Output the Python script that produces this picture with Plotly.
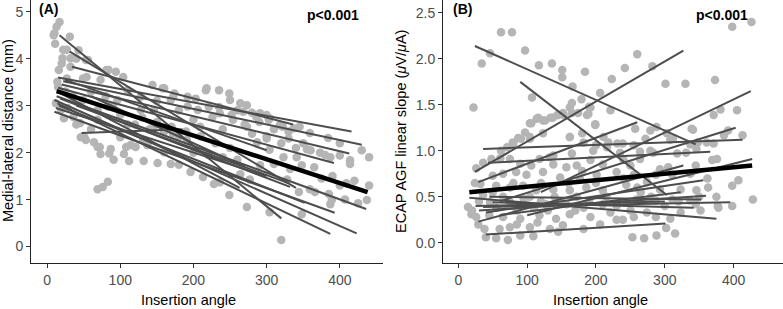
import plotly.graph_objects as go

# ---------------- Panel A data (Insertion angle vs Medial-lateral distance) ----
left_points = [
    (10,4.54),(17,4.78),(13,4.68),(31,4.47),(27,4.19),(20,3.9),(27,3.58),(40,4.0),(56,3.97),(54,3.61),
    (81,3.76),(104,3.61),(158,3.37),(172,3.19),(273,3.01),(291,2.84),(304,2.73),(322,2.55),(345,2.55),
    (359,2.42),(384,2.31),(400,2.2),(414,1.84),(49,3.12),(45,2.63),(51,2.33),(72,2.12),(85,1.98),
    (108,2.12),(131,2.27),(145,2.48),(172,2.41),(191,2.27),(209,2.55),(226,2.76),(254,2.7),(273,2.55),
    (46,2.33),(53,2.27),(69,2.12),(73,1.97),(87,2.08),(91,1.85),(105,1.97),(112,1.82),(121,2.12),
    (132,1.82),(151,1.78),(169,1.76),(180,1.74),(196,1.59),(213,1.48),(114,2.16),(137,2.16),(160,2.01),
    (64,2.22),(100,2.33),(69,1.22),(76,1.27),(83,1.38),
    (228,1.33),(236,1.37),(249,1.1),(273,0.84),(287,2.22),(304,2.06),(323,1.9),(341,1.9),(365,1.69),
    (355,2.07),(373,2.0),(400,1.94),(414,1.76),(387,1.9),(344,1.16),(359,1.22),(366,1.16),(385,1.12),
    (389,0.99),(387,0.9),(407,1.0),(348,0.69),(304,0.73),(437,0.99),(277,1.43),(328,1.43),(332,1.65),
    (348,1.73),(291,1.73),(264,1.54),(310,1.76),(320,0.14),
    (9,4.5),(11,4.32),(22,4.19),(21,4.01),(16,3.76),(32,4.01),(32,3.83),(43,4.18),(53,3.97),(84,3.76),
    (94,3.72),(49,3.58),(73,3.55),(144,3.44),(160,3.37),(174,3.26),(192,3.19),(203,3.15),(217,3.33),
    (14,3.51),(12,3.05),(19,2.91),(23,2.73),(36,2.76),(69,2.7),(83,2.98),(96,3.12),(128,2.91),
    (146,2.91),(169,3.12),(192,2.98),(206,2.91),(69,2.91),(128,3.19),(110,3.33),
    (218,3.37),(235,3.33),(249,3.26),(250,3.12),(264,3.05),(221,2.97),(235,2.97),(236,2.84),(252,2.8),
    (268,2.87),(286,2.76),(303,2.7),(318,2.59),(337,2.52),
    (15,3.4),(25,3.3),(35,3.2),(28,2.95),(40,2.6),(120,2.6),(140,2.5),(160,2.45),(180,2.35),(130,2.75),
    (150,2.65),(170,2.55),(190,2.45),(210,2.35),(230,2.2),(250,2.1),(200,2.0),(220,1.95),(240,1.9),
    (260,1.85),(280,2.4),(300,2.3),(320,2.2),(340,2.1),(360,2.05),(380,1.95),(270,2.6),(290,2.65),
    (310,2.5),(330,2.45),(260,2.9),(280,2.85),(300,2.8),(60,3.3),(80,3.2),(90,3.0),(100,2.8),(110,2.6),
    (60,2.5),(150,3.1),(180,2.9),(200,2.7),(240,2.5),(390,1.5),(420,1.4),(440,1.3),(400,1.3),(375,1.45),
    (300,2.35),(330,2.3),(350,2.2),(430,2.05),(440,1.9),(425,0.92),(409,1.35),
]
left_angle = [p[0] for p in left_points]
left_dist = [p[1] for p in left_points]

# per-subject fitted lines: start angle, start value, end angle, end value
left_line_x0 = [17, 31, 34, 15, 22, 20, 15, 13, 10, 10, 14, 47, 20, 18, 16, 25, 40, 60, 12]
left_line_y0 = [4.50, 4.15, 3.83, 3.60, 3.52, 3.45, 3.38, 3.20, 3.12, 2.87, 3.05, 2.42, 3.25, 3.15, 3.00, 3.55, 3.00, 3.20, 2.95]
left_line_x1 = [320, 340, 336, 416, 430, 413, 392, 436, 423, 393, 387, 185, 263, 332, 352, 300, 330, 270, 300]
left_line_y1 = [0.60, 1.25, 2.60, 2.45, 2.17, 1.98, 1.78, 0.80, 0.28, 0.72, 0.27, 2.50, 1.25, 1.27, 0.93, 2.05, 1.35, 1.70, 1.50]
left_fit_x = [13, 438]
left_fit_y = [3.31, 1.16]

# ---------------- Panel B data (Insertion angle vs ECAP AGF slope) ----------
right_points = [
    (22,1.47),(34,1.95),(46,2.06),(62,2.29),(78,2.29),(97,2.09),(117,1.93),(136,1.95),(151,1.88),
    (151,1.8),(166,1.7),(184,1.86),(223,1.78),(242,1.9),(260,2.05),(282,1.92),(301,1.73),(330,1.73),
    (373,1.77),(398,2.35),(426,2.4),(405,1.44),(381,1.45),(371,1.39),(413,1.17),(341,1.23),(107,1.58),
    (165,1.52),(162,1.47),(192,1.47),(206,1.63),(221,1.44),(104,1.3),(114,1.35),(123,1.33),(137,1.36),
    (144,1.39),(153,1.39),(165,1.41),(187,1.39),(97,1.2),(87,1.14),(104,1.13),(123,1.19),(162,1.15),
    (180,1.19),(199,1.28),(211,1.15),(231,1.08),(257,1.24),(279,1.22),(288,1.26),(303,1.19),(308,1.12),
    (339,1.24),(348,1.09),(371,1.08),(386,1.17),(392,1.22),(71,1.04),(61,0.92),(80,1.08),(133,0.93),
    (165,0.97),(196,1.0),(216,1.04),(239,1.08),(264,0.99),(279,1.0),(318,0.97),
    (179,1.56),(190,1.48),(189,1.4),(174,1.41),(199,1.29),(116,1.36),(126,1.33),(134,1.36),(145,1.39),
    (152,1.41),(106,1.3),
    (253,0.06),(270,0.05),(288,0.08),(302,0.16),(315,0.1),(308,0.26),(377,0.4),(398,0.4),(398,0.62),
    (407,0.68),(428,0.47),(363,0.6),(362,0.7),(369,0.9),(376,0.91),
    (272,1.13),(255,1.06),(312,1.13),(345,0.84),(293,0.8),(305,0.82),(378,0.38),(375,0.5),(352,0.35),
    (345,0.42),(287,0.28),(239,0.25),(230,0.25),(255,0.28),(274,0.33),(323,0.33),(244,0.63),(274,0.66),
    (293,0.58),(323,0.58),(346,0.57),(259,0.47),(287,0.46),(311,0.47),(337,0.46),(250,0.84),(264,0.91),
    (283,0.98),(331,0.98),(346,1.02),(361,1.09),(337,1.07),(235,0.98),(230,0.77),(255,0.74),(287,0.74),
    (311,0.74),(337,0.75),
    (14,0.39),(19,0.31),(26,0.28),(29,0.2),(38,0.15),(40,0.06),(55,0.05),(72,0.03),(90,0.08),(109,0.07),
    (48,0.91),(62,1.0),(79,1.09),(91,1.13),(104,1.15),(75,0.91),(90,0.86),(106,0.84),(118,0.91),
    (138,0.95),(162,1.15),(182,1.09),(200,1.06),(218,1.09),(138,0.85),(157,0.82),(172,0.84),(192,0.9),
    (50,0.73),(65,0.75),(84,0.77),(99,0.74),(123,0.77),(148,0.71),(177,0.69),(201,0.74),(32,0.64),
    (55,0.62),(75,0.6),(94,0.62),(113,0.57),(138,0.58),(162,0.57),(186,0.6),(210,0.57),(46,0.44),
    (75,0.44),(99,0.41),(127,0.42),(157,0.42),(182,0.38),(210,0.42),(65,0.28),(90,0.26),(118,0.3),
    (142,0.26),(162,0.31),(192,0.28),(221,0.33),(75,0.17),(104,0.17),(133,0.15),(152,0.19),(182,0.15),
    (206,0.2),(36,0.52),(104,0.5),(172,0.5),(215,0.5),(24,0.65),(26,0.81),(36,0.87),(145,0.12),
    (20,0.35),(30,0.45),(45,0.3),(55,0.38),(65,0.5),(85,0.35),(95,0.48),(110,0.38),(120,0.45),
    (130,0.35),(140,0.5),(150,0.45),(170,0.35),(190,0.45),(230,0.4),(250,0.35),(265,0.55),(280,0.5),
    (300,0.4),(320,0.45),(350,0.5),(60,0.15),(85,0.2),(115,0.22),(80,0.65),(120,0.65),(160,0.65),
    (200,0.65),(240,0.7),(50,0.55),(180,0.78),(210,0.85),(240,0.9),(260,0.6),
]
right_angle = [p[0] for p in right_points]
right_slope = [p[1] for p in right_points]

right_line_x0 = [24, 90, 24, 120, 36, 29, 43, 60, 16, 40, 29, 100, 36, 40, 50, 30, 45, 60, 25]
right_line_y0 = [2.14, 1.75, 0.77, 0.55, 1.02, 0.66, 0.87, 0.45, 0.49, 0.09, 0.23, 0.30, 0.39, 0.33, 0.44, 0.35, 0.50, 0.30, 0.40]
right_line_x1 = [345, 303, 327, 425, 413, 260, 366, 403, 375, 301, 327, 427, 395, 356, 342, 360, 353, 323, 300]
right_line_y1 = [1.07, 0.52, 2.09, 1.65, 1.12, 1.31, 0.99, 1.25, 0.26, 0.21, 0.84, 0.91, 0.44, 0.68, 0.38, 0.51, 0.47, 0.55, 0.45]
right_fit_x = [16, 427]
right_fit_y = [0.55, 0.84]

POINT_COLOR = "#b5b5b5"
LINE_COLOR = "#4d4d4d"
FONT = "Liberation Sans, Arial, sans-serif"

fig = go.Figure()

def add_panel(xs, ys, lx0, ly0, lx1, ly1, fx, fy, xa, ya):
    fig.add_trace(go.Scatter(x=xs, y=ys, mode="markers", xaxis=xa, yaxis=ya,
                             marker=dict(size=8.5, color=POINT_COLOR, line=dict(width=0)),
                             showlegend=False, hoverinfo="skip"))
    for a, b, c, d in zip(lx0, ly0, lx1, ly1):
        fig.add_trace(go.Scatter(x=[a, c], y=[b, d], mode="lines", xaxis=xa, yaxis=ya,
                                 line=dict(color=LINE_COLOR, width=2),
                                 showlegend=False, hoverinfo="skip"))
    fig.add_trace(go.Scatter(x=fx, y=fy, mode="lines", xaxis=xa, yaxis=ya,
                             line=dict(color="black", width=4.5),
                             showlegend=False, hoverinfo="skip"))

add_panel(left_angle, left_dist, left_line_x0, left_line_y0, left_line_x1, left_line_y1,
          left_fit_x, left_fit_y, "x", "y")
add_panel(right_angle, right_slope, right_line_x0, right_line_y0, right_line_x1, right_line_y1,
          right_fit_x, right_fit_y, "x2", "y2")

W, H = 783, 309
axis_common = dict(showline=True, linecolor="#222", linewidth=1, ticks="outside", ticklen=4,
                   tickcolor="#333", tickwidth=1, showgrid=False, zeroline=False,
                   tickfont=dict(family=FONT, size=14, color="#4d4d4d"))

fig.update_layout(
    width=W, height=H,
    margin=dict(l=0, r=0, t=0, b=46),
    paper_bgcolor="white", plot_bgcolor="white",
    font=dict(family=FONT),
    xaxis=dict(domain=[31 / W, 383 / W], range=[-22, 459], tickvals=[0, 100, 200, 300, 400],
               anchor="y", **axis_common),
    yaxis=dict(domain=[0, 1], range=[-0.35, 5.25], tickvals=[0, 1, 2, 3, 4, 5],
               anchor="x", **axis_common),
    xaxis2=dict(domain=[443 / W, 1.0], range=[-22.3, 471.8], tickvals=[0, 100, 200, 300, 400],
                anchor="y2", **axis_common),
    yaxis2=dict(domain=[0, 1], range=[-0.22, 2.64], tickvals=[0, 0.5, 1.0, 1.5, 2.0, 2.5],
                tickformat=".1f", anchor="x2", **axis_common),
)

PH = 263  # plot height in px

def ann(text, xpx, ypx, size=14, bold=False, angle=0, color="black"):
    fig.add_annotation(text=f"<b>{text}</b>" if bold else text,
                       x=xpx / W, y=1 - ypx / PH, xref="paper", yref="paper",
                       showarrow=False, textangle=angle,
                       font=dict(family=FONT, size=size, color=color),
                       xanchor="center", yanchor="middle")

ann("(A)", 48, 9, bold=True)
ann("p&lt;0.001", 333, 15, bold=True)
ann("(B)", 462, 9, bold=True)
ann("p&lt;0.001", 722, 15, bold=True)
ann("Insertion angle", 188, 300, size=14.5)
ann("Insertion angle", 600, 300, size=14.5)
ann("Medial-lateral distance (mm)", 8, 131, size=14.5, angle=-90)
ann("ECAP AGF linear slope (<i>μ</i>V/<i>μ</i>A)", 401, 131, size=14.5, angle=-90)

fig.write_html("out.html", config={"displayModeBar": False},
               post_script="document.body.style.margin='0';document.body.style.overflow='hidden';")
